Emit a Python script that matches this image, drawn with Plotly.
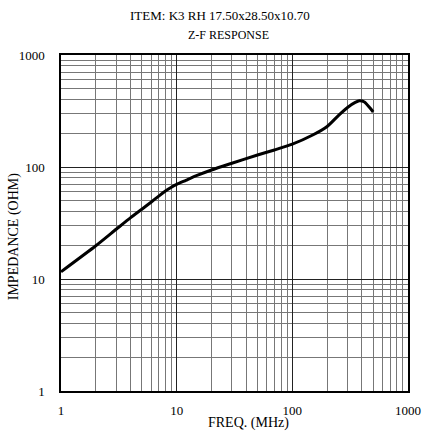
import plotly.graph_objects as go

freq_mhz = [1, 2, 3, 4, 5, 6, 7, 8, 9, 10, 12, 15, 20, 30, 50, 70, 100, 150, 200, 250, 300, 350, 380, 420, 460, 500]
impedance_ohm = [11.6, 19.8, 27.8, 35.3, 42, 48.5, 55, 61, 66, 70, 76, 84, 94, 108, 128, 142, 160, 193, 230, 288, 340, 377, 390, 380, 345, 310]

x_tick_vals = [1, 10, 100, 1000]
x_tick_text = ["1", "10", "100", "1000"]
y_tick_vals = [1, 10, 100, 1000]
y_tick_text = ["1", "10", "100", "1000"]

FONT = "Liberation Serif"

fig = go.Figure()
fig.add_trace(go.Scatter(
    x=freq_mhz, y=impedance_ohm, mode="lines",
    line=dict(color="black", width=3, shape="spline", smoothing=0.6),
    hoverinfo="skip", showlegend=False,
))

axis_common = dict(
    type="log",
    showgrid=True, gridcolor="#222", gridwidth=1,
    minor=dict(showgrid=True, gridcolor="#777", gridwidth=1, dtick="D1"),
    showline=True, linecolor="black", linewidth=1.5, mirror=True,
    ticks="",
    tickfont=dict(family=FONT, size=13, color="black"),
    zeroline=False, automargin=False,
)

fig.update_xaxes(range=[0, 3], tickvals=x_tick_vals, ticktext=x_tick_text,
                 ticklabelstandoff=7, **axis_common)
fig.update_yaxes(range=[0, 3], tickvals=y_tick_vals, ticktext=y_tick_text,
                 ticklabelstandoff=12, **axis_common)

fig.update_layout(
    width=423, height=432,
    margin=dict(l=61, r=15, t=55, b=41, autoexpand=False),
    paper_bgcolor="white", plot_bgcolor="white",
    font=dict(family=FONT, color="black"),
    annotations=[
        dict(text="ITEM: K3 RH 17.50x28.50x10.70", xref="paper", yref="paper",
             x=0.457, y=1.119, showarrow=False, font=dict(family=FONT, size=13), xanchor="center", yanchor="middle"),
        dict(text="Z-F RESPONSE", xref="paper", yref="paper",
             x=0.483, y=1.0595, showarrow=False, font=dict(family=FONT, size=12), xanchor="center", yanchor="middle"),
        dict(text="FREQ. (MHz)", xref="paper", yref="paper",
             x=0.539, y=-0.095, showarrow=False, font=dict(family=FONT, size=14), xanchor="center", yanchor="middle"),
        dict(text="IMPEDANCE (OHM)", xref="paper", yref="paper", textangle=-90,
             x=-0.135, y=0.461, showarrow=False, font=dict(family=FONT, size=14), xanchor="center", yanchor="middle"),
    ],
)

fig.write_html(
    "out.html",
    config={"displayModeBar": False},
    post_script="document.body.style.margin='0';document.body.style.overflow='hidden';",
)
